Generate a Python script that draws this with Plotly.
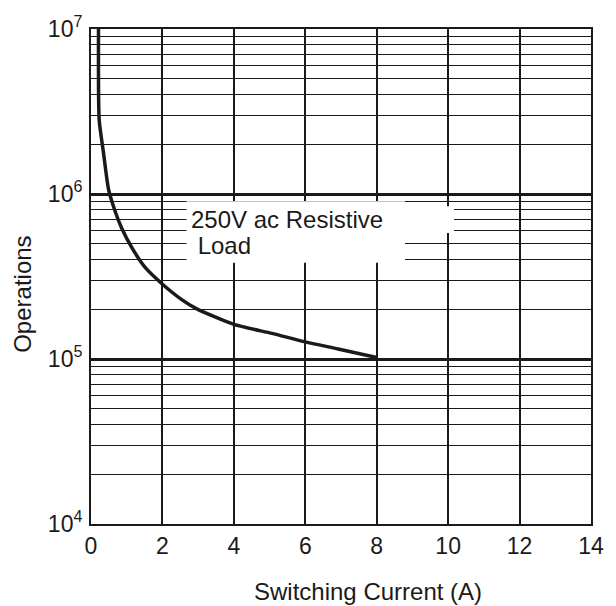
import plotly.graph_objects as go

# Data
current_a = [0.21, 0.23, 0.35, 0.49, 0.68, 0.86, 1.14, 1.51, 1.97, 2.53, 2.95, 4.0, 5.07, 6.0, 6.92, 8.0]
operations = [1.0e7, 2.8e6, 1.78e6, 1.07e6, 7.8e5, 6.2e5, 4.75e5, 3.6e5, 2.88e5, 2.3e5, 2.02e5,
              1.62e5, 1.43e5, 1.27e5, 1.15e5, 1.02e5]

x_ticks = [0, 2, 4, 6, 8, 10, 12, 14]
y_tickvals = [1e4, 1e5, 1e6, 1e7]
y_ticktext = ["10<sup>4</sup>", "10<sup>5</sup>", "10<sup>6</sup>", "10<sup>7</sup>"]

label_line1 = "250V ac Resistive"
label_line2 = " Load"
x_title = "Switching Current (A)"
y_title = "Operations"

INK = "#1c1a18"
FONT = "Liberation Sans, Arial, sans-serif"

fig = go.Figure()
fig.add_trace(go.Scatter(
    x=current_a, y=operations, mode="lines",
    line=dict(color=INK, width=3.5, shape="spline", smoothing=0.6),
    hoverinfo="skip", showlegend=False,
))

fig.update_layout(
    width=616, height=606,
    margin=dict(l=91, r=22, t=24, b=82),
    paper_bgcolor="white", plot_bgcolor="white",
    font=dict(family=FONT, size=23, color=INK),
    showlegend=False,
)

fig.update_xaxes(
    range=[0, 14], tickvals=x_ticks, ticks="",
    showgrid=True, gridcolor=INK, gridwidth=1.6,
    showline=True, linecolor=INK, linewidth=2, mirror=True,
    zeroline=False,
    tickfont=dict(size=23, color=INK, family=FONT),
)
fig.update_yaxes(
    type="log", range=[4, 7],
    tickvals=y_tickvals, ticktext=y_ticktext, ticks="",
    showgrid=True, gridcolor=INK, gridwidth=2.6,
    minor=dict(dtick="D1", showgrid=True, gridcolor=INK, gridwidth=1.4, ticks=""),
    showline=True, linecolor=INK, linewidth=2, mirror=True,
    zeroline=False, ticklabelstandoff=2, ticklabeloverflow="allow",
    tickfont=dict(size=23, color=INK, family=FONT),
)

# white label background (covers grid behind the note)
fig.add_shape(type="rect", xref="x domain", yref="y domain",
              x0=0.191, x1=0.628, y0=0.528, y1=0.652,
              fillcolor="white", line=dict(width=0), layer="above")
fig.add_shape(type="rect", xref="x domain", yref="y domain",
              x0=0.627, x1=0.726, y0=0.588, y1=0.642,
              fillcolor="white", line=dict(width=0), layer="above")

fig.add_annotation(text=label_line1, xref="x domain", yref="y domain",
                   x=0.196, y=0.6146, xanchor="left", yanchor="middle",
                   showarrow=False, font=dict(size=24, color=INK, family=FONT))
fig.add_annotation(text=label_line2, xref="x domain", yref="y domain",
                   x=0.196, y=0.5626, xanchor="left", yanchor="middle",
                   showarrow=False, font=dict(size=24, color=INK, family=FONT))

fig.add_annotation(text=x_title, xref="paper", yref="paper",
                   x=0.554, y=-0.136, xanchor="center", yanchor="middle",
                   showarrow=False, font=dict(size=24, color=INK, family=FONT))
fig.add_annotation(text=y_title, xref="paper", yref="paper",
                   x=-0.137, y=0.464, xanchor="center", yanchor="middle",
                   textangle=-90, showarrow=False,
                   font=dict(size=24, color=INK, family=FONT))

# remove the page's default body margin so the 616x606 figure fills the window
fig.write_html("out.html", config={"displayModeBar": False},
               post_script="document.body.style.margin='0';")
